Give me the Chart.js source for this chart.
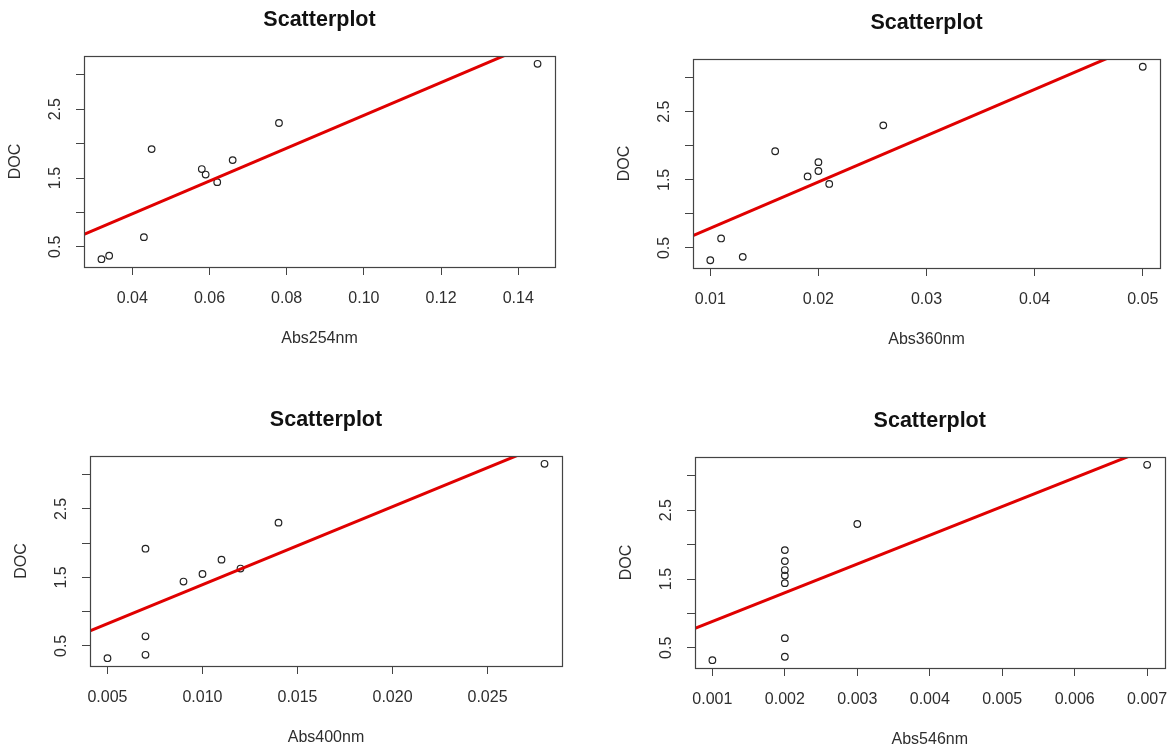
<!DOCTYPE html>
<html>
<head>
<meta charset="utf-8">
<title>Scatterplot</title>
<script src="https://cdn.jsdelivr.net/npm/chart.js@4.4.1/dist/chart.umd.min.js"></script>
<style>
  html, body { margin: 0; padding: 0; background: #ffffff; overflow: hidden; }
  body { width: 1173px; height: 748px; position: relative; }
  canvas { position: absolute; }
</style>
</head>
<body>
<canvas id="p254"></canvas>
<canvas id="p360"></canvas>
<canvas id="p400"></canvas>
<canvas id="p546"></canvas>
<script>
// Dissolved organic carbon vs. absorbance at four wavelengths
const doc    = [0.32, 0.37, 0.64, 1.92, 1.63, 1.55, 1.44, 1.76, 2.30, 3.16];
const abs254 = [0.032, 0.034, 0.043, 0.045, 0.058, 0.059, 0.062, 0.066, 0.078, 0.145];
const abs360 = [0.010, 0.013, 0.011, 0.016, 0.020, 0.019, 0.021, 0.020, 0.026, 0.050];
const abs400 = [0.005, 0.007, 0.007, 0.007, 0.012, 0.010, 0.009, 0.011, 0.014, 0.028];
const abs546 = [0.001, 0.002, 0.002, 0.002, 0.002, 0.002, 0.002, 0.002, 0.003, 0.007];

// Axis ticks
const docTicks       = [0.5, 1.0, 1.5, 2.0, 2.5, 3.0];
const docTickLabels  = ['0.5', '', '1.5', '', '2.5', ''];
const ticks254       = [0.04, 0.06, 0.08, 0.10, 0.12, 0.14];
const tickLabels254  = ['0.04', '0.06', '0.08', '0.10', '0.12', '0.14'];
const ticks360       = [0.01, 0.02, 0.03, 0.04, 0.05];
const tickLabels360  = ['0.01', '0.02', '0.03', '0.04', '0.05'];
const ticks400       = [0.005, 0.010, 0.015, 0.020, 0.025];
const tickLabels400  = ['0.005', '0.010', '0.015', '0.020', '0.025'];
const ticks546       = [0.001, 0.002, 0.003, 0.004, 0.005, 0.006, 0.007];
const tickLabels546  = ['0.001', '0.002', '0.003', '0.004', '0.005', '0.006', '0.007'];

// Plot-box geometry of each panel (left, top, right, bottom in page pixels)
const frames = {
  p254: { L: 84,  T: 56,  R: 555,  B: 267 },
  p360: { L: 693, T: 59,  R: 1161, B: 268 },
  p400: { L: 90,  T: 456, R: 562,  B: 666 },
  p546: { L: 695, T: 457, R: 1170, B: 668 }
};

const LEFT = 84, TOP = 56, BOTTOM = 90, RIGHT = 12;
const INK = '#444444';
const TEXT = '#2e2e2e';
const FONT = "'Liberation Sans', Arial, sans-serif";

// Axis limits padded by 4% of the data range on each side
function paddedRange(v) {
  const lo = Math.min(...v), hi = Math.max(...v);
  const d = (hi - lo) * 0.04;
  return [lo - d, hi + d];
}

// Ordinary least-squares fit y = a + b x
function leastSquares(x, y) {
  const n = x.length;
  const mx = x.reduce((s, v) => s + v, 0) / n;
  const my = y.reduce((s, v) => s + v, 0) / n;
  let sxy = 0, sxx = 0;
  for (let i = 0; i < n; i++) {
    sxy += (x[i] - mx) * (y[i] - my);
    sxx += (x[i] - mx) * (x[i] - mx);
  }
  const b = sxy / sxx;
  return { a: my - b * mx, b };
}

// Full rectangle around the plotting region
const frameBox = {
  id: 'frameBox',
  afterDraw(chart) {
    const { ctx, chartArea: a } = chart;
    ctx.save();
    ctx.strokeStyle = INK;
    ctx.lineWidth = 1.2;
    ctx.strokeRect(Math.round(a.left) + 0.5, Math.round(a.top) + 0.5,
                   Math.round(a.right - a.left), Math.round(a.bottom - a.top));
    ctx.restore();
  }
};

function panel(id, xs, xTicks, xTickLabels, xTitle) {
  const f = frames[id];
  const canvas = document.getElementById(id);
  const w = (f.R - f.L) + LEFT + RIGHT;
  const h = (f.B - f.T) + TOP + BOTTOM;
  canvas.width = w; canvas.height = h;
  canvas.style.width = w + 'px'; canvas.style.height = h + 'px';
  canvas.style.left = (f.L - LEFT) + 'px';
  canvas.style.top = (f.T - TOP) + 'px';

  const [xmin, xmax] = paddedRange(xs);
  const [ymin, ymax] = paddedRange(doc);
  const fit = leastSquares(xs, doc);
  const pts = xs.map((x, i) => ({ x, y: doc[i] }));

  new Chart(canvas, {
    data: {
      datasets: [
        {
          type: 'line',
          data: [{ x: xmin, y: fit.a + fit.b * xmin }, { x: xmax, y: fit.a + fit.b * xmax }],
          borderColor: '#e00000',
          borderWidth: 3,
          pointRadius: 0,
          fill: false,
          clip: 0
        },
        {
          type: 'scatter',
          data: pts,
          pointStyle: 'circle',
          pointRadius: 3.3,
          borderWidth: 1.2,
          borderColor: '#222222',
          backgroundColor: 'rgba(0,0,0,0)'
        }
      ]
    },
    options: {
      responsive: false,
      animation: false,
      devicePixelRatio: 1,
      layout: { padding: { left: 0, right: RIGHT, top: 0, bottom: 0 } },
      plugins: {
        legend: { display: false },
        tooltip: { enabled: false },
        title: {
          display: true,
          fullSize: false,
          text: 'Scatterplot',
          color: '#111111',
          font: { family: FONT, size: 21.5, weight: 'bold', lineHeight: 1.2 },
          padding: { top: 6.8, bottom: 23.4 }
        }
      },
      scales: {
        x: {
          type: 'linear',
          position: 'bottom',
          min: xmin,
          max: xmax,
          afterBuildTicks: s => { s.ticks = xTicks.map(v => ({ value: v })); },
          afterFit: s => { s.height = BOTTOM; },
          grid: { display: true, drawOnChartArea: false, drawTicks: true, tickLength: 8, color: INK, lineWidth: 1 },
          border: { display: false },
          ticks: {
            autoSkip: false,
            maxRotation: 0,
            minRotation: 0,
            padding: 14.2,
            color: TEXT,
            font: { family: FONT, size: 16 },
            callback: (v, i) => xTickLabels[i]
          },
          title: {
            display: true,
            text: xTitle,
            color: TEXT,
            font: { family: FONT, size: 16, lineHeight: 1.2 },
            padding: { top: 0, bottom: 8.6 }
          }
        },
        y: {
          type: 'linear',
          position: 'left',
          min: ymin,
          max: ymax,
          afterBuildTicks: s => { s.ticks = docTicks.map(v => ({ value: v })); },
          afterFit: s => { s.width = LEFT; },
          grid: { display: true, drawOnChartArea: false, drawTicks: true, tickLength: 8, color: INK, lineWidth: 1 },
          border: { display: false },
          ticks: {
            autoSkip: false,
            minRotation: 90,
            maxRotation: 90,
            crossAlign: 'center',
            padding: 9.6,
            color: TEXT,
            font: { family: FONT, size: 16 },
            callback: (v, i) => docTickLabels[i]
          },
          title: {
            display: true,
            text: 'DOC',
            color: TEXT,
            font: { family: FONT, size: 16, lineHeight: 1.2 },
            padding: { top: 6.4, bottom: 0 }
          }
        }
      }
    },
    plugins: [frameBox]
  });
}

panel('p254', abs254, ticks254, tickLabels254, 'Abs254nm');
panel('p360', abs360, ticks360, tickLabels360, 'Abs360nm');
panel('p400', abs400, ticks400, tickLabels400, 'Abs400nm');
panel('p546', abs546, ticks546, tickLabels546, 'Abs546nm');
</script>
</body>
</html>
